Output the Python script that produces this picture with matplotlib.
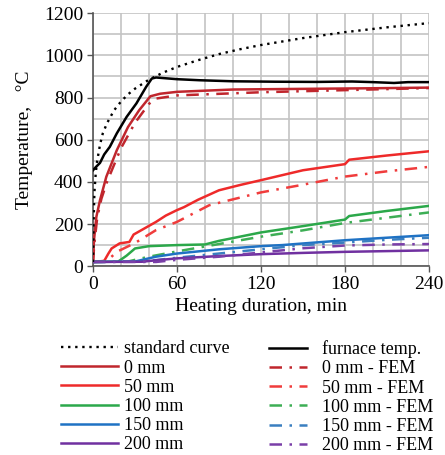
import matplotlib
matplotlib.use("Agg")
import matplotlib.pyplot as plt
from matplotlib.lines import Line2D
import numpy as np

plt.rcParams['font.family'] = ['Liberation Serif', 'DejaVu Serif']

# ---- data ----
std_t = [0, 0.5, 1, 2, 3, 5, 7, 10, 15, 20, 25, 30, 40, 50, 60, 75, 90, 105, 120, 150, 180, 210, 240]
std_T = [20, 230, 350, 445, 500, 576, 630, 678, 739, 781, 815, 842, 885, 918, 945, 977, 1006, 1029, 1049, 1082, 1110, 1133, 1153]

fur_t = [0, 2, 5, 8, 12, 17, 24, 31, 38, 42, 45, 60, 76, 100, 130, 160, 185, 200, 215, 225, 240]
fur_T = [455, 470, 490, 530, 566, 630, 708, 772, 851, 890, 895, 887, 882, 877, 875, 874, 876, 873, 869, 873, 873]

m0_t = [0, 0.7, 2.4, 5, 9.5, 17, 25, 33, 41, 48, 60, 100, 148, 200, 240]
m0_T = [20, 123, 234, 313, 424, 550, 660, 740, 806, 818, 827, 838, 841, 844, 847]
m0f_t = [0, 1, 3, 6, 10, 20, 30, 40, 45, 60, 120, 180, 240]
m0f_T = [20, 110, 230, 320, 400, 560, 680, 770, 795, 810, 825, 835, 845]

m50_t = [0, 8, 11, 13.3, 19, 26, 29, 37, 45, 52, 60, 65, 75, 90, 105, 120, 150, 180, 183, 210, 240]
m50_T = [20, 25, 60, 84, 108, 115, 150, 180, 210, 240, 266, 280, 315, 360, 385, 408, 455, 484, 505, 525, 545]
m50f_t = [0, 10, 17, 30, 45, 60, 83, 120, 148, 180, 210, 240]
m50f_T = [20, 25, 68, 110, 171, 210, 289, 350, 384, 425, 450, 471]

m100_t = [0, 18, 24, 30, 40, 60, 80, 90, 120, 150, 180, 183, 210, 240]
m100_T = [20, 22, 50, 84, 95, 100, 103, 120, 160, 190, 221, 238, 262, 286]
m100f_t = [0, 25, 30, 40, 60, 90, 120, 150, 180, 210, 240]
m100f_T = [20, 22, 30, 45, 70, 105, 140, 170, 205, 230, 255]

m150_t = [0, 30, 45, 60, 90, 120, 135, 180, 240]
m150_T = [20, 22, 45, 60, 80, 95, 100, 123, 147]
m150f_t = [0, 35, 40, 60, 90, 120, 150, 180, 210, 240]
m150f_T = [20, 22, 25, 40, 60, 80, 100, 112, 125, 135]

m200_t = [0, 35, 45, 60, 90, 120, 150, 180, 240]
m200_T = [20, 21, 28, 37, 48, 57, 63, 68, 75]
m200f_t = [0, 45, 60, 90, 120, 150, 180, 210, 240]
m200f_T = [20, 20, 30, 45, 65, 85, 98, 103, 105]

labels_left = ["standard curve", "0 mm", "50 mm", "100 mm", "150 mm", "200 mm"]
labels_right = ["furnace temp.", "0 mm - FEM", "50 mm - FEM", "100 mm - FEM", "150 mm - FEM", "200 mm - FEM"]

c_dark = "#C0262D"
c_red = "#EE2A2A"
c_green = "#2BA84A"
c_blue = "#1F72C4"
c_purple = "#7030A0"
c_dark_f = "#C0262D"
c_red_f = "#F03C3C"
c_green_f = "#3DAE55"
c_blue_f = "#3A7FC0"
c_purple_f = "#7A3FA8"

fig = plt.figure(figsize=(4.45, 4.55), dpi=100)
ax = fig.add_axes([0.209, 0.415, 0.755, 0.556])

lw = 1.8
dd = (0, (5, 3, 1, 3))

ax.plot(std_t, std_T, color="black", lw=1.7, linestyle=(0, (1, 2.0)), zorder=5)
ax.plot(fur_t, fur_T, color="black", lw=lw, zorder=5)
ax.plot(m0_t, m0_T, color=c_dark, lw=lw, zorder=4)
ax.plot(m0f_t, m0f_T, color=c_dark_f, lw=lw, linestyle=dd, zorder=4)
ax.plot(m50_t, m50_T, color=c_red, lw=lw, zorder=4)
ax.plot(m50f_t, m50f_T, color=c_red_f, lw=lw, linestyle=dd, zorder=4)
ax.plot(m100_t, m100_T, color=c_green, lw=lw, zorder=4)
ax.plot(m100f_t, m100f_T, color=c_green_f, lw=lw, linestyle=dd, zorder=4)
ax.plot(m150_t, m150_T, color=c_blue, lw=lw, zorder=4)
ax.plot(m150f_t, m150f_T, color=c_blue_f, lw=lw, linestyle=dd, zorder=4)
ax.plot(m200_t, m200_T, color=c_purple, lw=lw, zorder=4)
ax.plot(m200f_t, m200f_T, color=c_purple_f, lw=lw, linestyle=dd, zorder=4)

ax.set_xlim(0, 240)
ax.set_ylim(0, 1200)
ax.set_xticks([0, 60, 120, 180, 240])
ax.set_yticks(np.arange(0, 1201, 200))
ax.set_xticks(np.arange(0, 241, 20), minor=True)
ax.set_yticks(np.arange(0, 1201, 100), minor=True)
ax.grid(which="both", color="#C4C4C4", lw=1.2)
ax.set_axisbelow(True)
ax.tick_params(which="minor", length=0)
ax.tick_params(which="major", length=4, width=1, color="#555555", labelsize=14, pad=3)
for s in ["top", "right"]:
    ax.spines[s].set_visible(False)
for s in ["left", "bottom"]:
    ax.spines[s].set_color("#555555")
    ax.spines[s].set_linewidth(1.2)

ax.set_xlabel("Heating duration, min", fontsize=14, labelpad=4)
ax.set_ylabel("Temperature,   °C", fontsize=14, labelpad=8)

left_handles = [
    Line2D([], [], color="black", lw=1.7, linestyle=(0, (1, 2.0))),
    Line2D([], [], color=c_dark, lw=lw),
    Line2D([], [], color=c_red, lw=lw),
    Line2D([], [], color=c_green, lw=lw),
    Line2D([], [], color=c_blue, lw=lw),
    Line2D([], [], color=c_purple, lw=lw),
]
right_handles = [
    Line2D([], [], color="black", lw=lw),
    Line2D([], [], color=c_dark_f, lw=lw, linestyle=dd),
    Line2D([], [], color=c_red_f, lw=lw, linestyle=dd),
    Line2D([], [], color=c_green_f, lw=lw, linestyle=dd),
    Line2D([], [], color=c_blue_f, lw=lw, linestyle=dd),
    Line2D([], [], color=c_purple_f, lw=lw, linestyle=dd),
]
leg1 = fig.legend(left_handles, labels_left, loc="upper left", bbox_to_anchor=(0.136, 0.252),
                  frameon=False, fontsize=13, handlelength=3.2, handletextpad=0.3,
                  labelspacing=0.12, borderpad=0, borderaxespad=0)
leg2 = fig.legend(right_handles, labels_right, loc="upper left", bbox_to_anchor=(0.605, 0.252),
                  frameon=False, fontsize=13, handlelength=2.1, handletextpad=0.8,
                  labelspacing=0.12, borderpad=0, borderaxespad=0)

fig.savefig("out.png", dpi=100)
